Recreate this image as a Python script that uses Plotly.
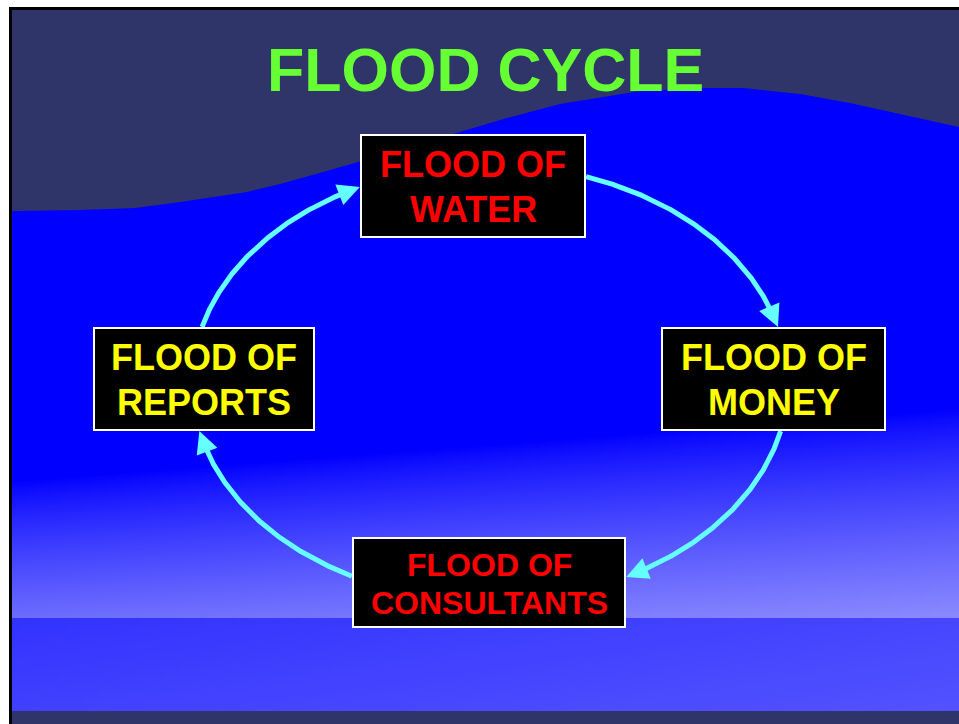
import numpy as np
import plotly.graph_objects as go

# ---------------- data (text content) ----------------
title_text = "FLOOD CYCLE"
stage_prefix = ["FLOOD OF", "FLOOD OF", "FLOOD OF", "FLOOD OF"]
stage_names = ["WATER", "MONEY", "CONSULTANTS", "REPORTS"]

# ---------------- layout / style constants ----------------
W, H = 959, 724
NAVY = "#303569"
BLUE = "#0000ff"
CYAN = "#66ffff"
GREEN = "#66ff33"
FONT = "Liberation Sans, Arial, sans-serif"
stage_colors = ["#ff0000", "#ffff00", "#ff0000", "#ffff00"]
stage_font = [36, 36, 32, 36]
stage_gap = [45, 45, 38, 45]
# outer edges (x0, y0, x1, y1) of each box, clockwise from top
box_rects = [(360, 134, 586, 238), (661, 327, 886, 431),
             (352, 537, 626, 628), (93, 327, 315, 431)]
box_angle = [-90, 0, 90, 180]
# cycle ellipse
CX, CY, RA, RB = 490, 383, 298, 218

# wave outline (decorative background)
wave = [(12, 211), (80, 210), (135, 208), (180, 202), (247, 192), (280, 184),
        (330, 170), (400, 150), (500, 120), (560, 104), (640, 91), (700, 88),
        (743, 88), (800, 94), (850, 103), (900, 114), (959, 127)]

fig = go.Figure()

shapes = []
# slide background
shapes.append(dict(type="rect", x0=12, y0=10, x1=W, y1=H, fillcolor=NAVY,
                   line=dict(width=0), layer="below"))
wpath = "M " + " L ".join(f"{x},{y}" for x, y in wave) + f" L {W},711 L 12,711 Z"
shapes.append(dict(type="path", path=wpath, fillcolor=BLUE, line=dict(width=0),
                   layer="below"))
# frame
shapes.append(dict(type="rect", x0=9, y0=7, x1=12, y1=H, fillcolor="black",
                   line=dict(width=0), layer="below"))
shapes.append(dict(type="rect", x0=9, y0=7, x1=W, y1=10, fillcolor="black",
                   line=dict(width=0), layer="below"))

# gradient backgrounds via heatmaps (value v -> rgb(v, v, 255))
xe = np.append(np.arange(12, W, 8), W).astype(float)
xc = (xe[:-1] + xe[1:]) / 2
ye1 = np.arange(400, 619, 2).astype(float)
yc1 = (ye1[:-1] + ye1[1:]) / 2
ystart = 482 - 68 * (xc - 12) / 888
vend = 108 + 30 * (xc - 12) / 947
t = np.clip((yc1[:, None] - ystart[None, :]) / (618 - ystart[None, :]), 0, 1)
z1 = vend[None, :] * t ** 0.8

ye2 = np.arange(618, 712, 3).astype(float)
yc2 = (ye2[:-1] + ye2[1:]) / 2
s = (yc2 - 618) / 93
vtop = 50 + 20 * xc / W
vbot = 64 + 18 * xc / W
z2 = vtop[None, :] + (vbot - vtop)[None, :] * s[:, None]

cs = [[0, "rgb(0,0,255)"], [1, "rgb(255,255,255)"]]
for xx, yy, zz in [(xe, ye1, z1), (xe, ye2, z2)]:
    fig.add_trace(go.Heatmap(x=xx, y=yy, z=zz, colorscale=cs, zmin=0, zmax=255,
                             showscale=False, hoverinfo="skip", zsmooth=False))

# cycle arcs
def inside(px, py, r):
    return (r[0] <= px <= r[2]) and (r[1] <= py <= r[3])

annotations = []
for i in range(4):
    a0 = box_rects[i]
    a1 = box_rects[(i + 1) % 4]
    th = np.radians(np.arange(box_angle[i], box_angle[i] + 90.001, 0.05))
    xs = CX + RA * np.cos(th)
    ys = CY + RB * np.sin(th)
    keep = np.array([not inside(x, y, a0) and not inside(x, y, a1) for x, y in zip(xs, ys)])
    xs, ys = xs[keep], ys[keep]
    seg = np.hypot(np.diff(xs), np.diff(ys))
    cum = np.concatenate([[0], np.cumsum(seg)])
    L = cum[-1]
    end_line = cum <= L - 10
    fig.add_trace(go.Scatter(x=xs[end_line], y=ys[end_line], mode="lines",
                             line=dict(color=CYAN, width=5), hoverinfo="skip",
                             showlegend=False))
    k = np.searchsorted(cum, L - 20)
    annotations.append(dict(x=xs[-1], y=ys[-1], ax=xs[k], ay=ys[k],
                            xref="x", yref="y", axref="x", ayref="y", text="",
                            showarrow=True, arrowhead=2, arrowsize=1.1,
                            arrowwidth=4, arrowcolor=CYAN, standoff=0))

# boxes
for r in box_rects:
    shapes.append(dict(type="rect", x0=r[0] + 1, y0=r[1] + 1, x1=r[2] - 1, y1=r[3] - 1,
                       fillcolor="black", line=dict(color="white", width=2),
                       layer="above"))

# box texts
for i, r in enumerate(box_rects):
    mx = (r[0] + r[2]) / 2
    my = (r[1] + r[3]) / 2 + 1
    g = stage_gap[i]
    for j, txt in enumerate([stage_prefix[i], stage_names[i]]):
        annotations.append(dict(x=mx, y=my + (j - 0.5) * g, xref="x", yref="y",
                                text=f"<b>{txt}</b>", showarrow=False,
                                xanchor="center", yanchor="middle",
                                font=dict(family=FONT, size=stage_font[i],
                                          color=stage_colors[i])))

# title
annotations.append(dict(x=485, y=70, xref="x", yref="y", text=f"<b>{title_text}</b>",
                        showarrow=False, xanchor="center", yanchor="middle",
                        font=dict(family=FONT, size=61, color=GREEN)))

fig.update_layout(width=W, height=H, margin=dict(l=0, r=0, t=0, b=0),
                  paper_bgcolor="white", plot_bgcolor="white",
                  shapes=shapes, annotations=annotations, showlegend=False)
fig.update_xaxes(range=[0, W], visible=False, fixedrange=True)
fig.update_yaxes(range=[H, 0], visible=False, fixedrange=True)

fig.write_html("out.html", config={"displayModeBar": False},
               post_script="document.body.style.margin='0';document.body.style.overflow='hidden';")
